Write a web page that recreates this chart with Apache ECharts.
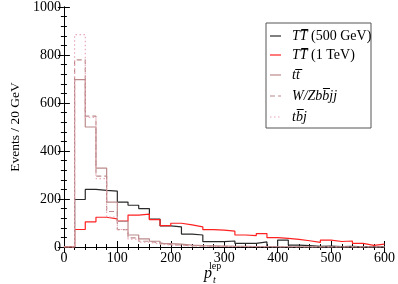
<!DOCTYPE html>
<html><head><meta charset="utf-8">
<script src="https://cdn.jsdelivr.net/npm/echarts@6/dist/echarts.min.js"></script>
<style>html,body{margin:0;padding:0;background:#fff}#c{width:398px;height:284px}</style>
</head><body><div id="c"></div>
<script>
// bin left edges (GeV), 20 GeV bins
const binEdges = [20,40,60,80,100,120,140,160,180,200,220,240,260,280,300,320,340,360,380,400,420,440,460,480,500,520,540,560,580];
const tt500 = [198,240,236,233,187,174,160,116,88,84,54,50,22,22,25,15,15,21,1,29,8,6,3,4,2,3,1,2,1];
const tt1tev = [73,105,124,117,108,133,137,114,89,99,92,84,72,70,66,50,47,56,39,36,32,26,19,29,23,25,15,7,12];
const ttbar = [697,500,329,187,107,50,34,24,14,12,8,6,5,4,3,3,2,2,1,1,1,0,0,0,0,0,0,0,0];
const wzbbjj = [780,545,295,148,72,38,24,17,10,8,6,5,3,3,2,2,1,1,1,0,0,0,0,0,0,0,0,0,0];
const tbj = [885,540,285,125,73,33,20,12,8,6,4,3,2,2,1,1,1,0,0,0,0,0,0,0,0,0,0,0,0];
const xMax = 600;
const yMax = 1000;
const seriesNames = ['TT500','TT1','tt','wz','tbj'];
const legendLabels = [
  '{i|TT\u0305}{n| (500 GeV)}',
  '{i|TT\u0305}{n| (1 TeV)}',
  '{i|tt\u0305}',
  '{i|W/Zbb\u0305jj}',
  '{i|tb\u0305j}'
];

function steps(vals){
  const d = [[0,0]];
  binEdges.forEach((x,i)=>d.push([x,vals[i]]));
  d.push([xMax, vals[vals.length-1]]);
  return d;
}
const serif = 'Liberation Serif';
const colors = ['#2a2a2a','#ff2020','#bc8a8a','#bc8a8a','#e8a8b8'];
const dashes = ['solid','solid','solid',[5,3],[1.5,2.5]];
const chart = echarts.init(document.getElementById('c'));
function mkSeries(i, vals){
  return {name:seriesNames[i], type:'line', step:'end', data:steps(vals), symbol:'none', silent:true,
    lineStyle:{color:colors[i], width:1.2, type:dashes[i]}, z:2};
}
const axisCommon = {
  axisLine:{show:true, lineStyle:{color:'#000', width:1}},
  axisTick:{show:true, inside:true, length:6, lineStyle:{color:'#000'}},
  minorTick:{show:true, splitNumber:5, length:3, lineStyle:{color:'#000'}},
  splitLine:{show:false}
};
// legend drawn as graphic group
const legX = 266, legY = 23, legW = 105, legH = 105;
const rowY = [36, 55, 75, 96, 117];
const legendEls = [{type:'rect', shape:{x:legX, y:legY, width:legW, height:legH},
  style:{fill:'#fff', stroke:'#555', lineWidth:1}, z:10}];
seriesNames.forEach((n,i)=>{
  legendEls.push({type:'line', shape:{x1:270, y1:rowY[i], x2:281, y2:rowY[i]},
    style:{stroke:colors[i], lineWidth:1.2, lineDash: Array.isArray(dashes[i]) ? dashes[i] : null}, z:11});
  legendEls.push({type:'text', x:292, y:rowY[i], z:11, style:{text:legendLabels[i],
    verticalAlign:'middle', fill:'#000',
    rich:{i:{fontFamily:serif, fontStyle:'italic', fontSize:14, fill:'#000'},
          n:{fontFamily:serif, fontSize:14, fill:'#000'}}}});
});
chart.setOption({
  animation:false,
  grid:{left:42, right:10, top:5, bottom:37},
  xAxis:[
    Object.assign({type:'value', min:0, max:xMax, interval:100, position:'bottom',
      axisLabel:{color:'#000', fontFamily:serif, fontSize:14, margin:4}}, axisCommon),
    Object.assign({type:'value', min:0, max:xMax, interval:100, position:'top',
      axisLabel:{show:false}}, axisCommon)
  ],
  yAxis:[
    Object.assign({type:'value', min:0, max:yMax, interval:200, position:'left',
      name:'Events / 20 GeV', nameLocation:'middle', nameGap:30,
      nameTextStyle:{color:'#000', fontFamily:serif, fontSize:13.5},
      axisLabel:{color:'#000', fontFamily:serif, fontSize:14, margin:3, formatter:v=>String(v)}}, axisCommon),
    Object.assign({type:'value', min:0, max:yMax, interval:200, position:'right',
      axisLabel:{show:false}}, axisCommon)
  ],
  series:[
    mkSeries(0, tt500),
    mkSeries(1, tt1tev),
    mkSeries(2, ttbar),
    mkSeries(3, wzbbjj),
    mkSeries(4, tbj)
  ],
  graphic:[
    {type:'text', left:204, top:266, style:{text:'p', fontFamily:serif, fontStyle:'italic', fontSize:16, fill:'#000'}},
    {type:'text', left:209, top:261, style:{text:'lep', fontFamily:serif, fontSize:10, fill:'#000'}},
    {type:'text', left:213, top:275, style:{text:'t', fontFamily:serif, fontStyle:'italic', fontSize:10, fill:'#000'}},
    {type:'group', children:legendEls}
  ]
});
</script></body></html>
